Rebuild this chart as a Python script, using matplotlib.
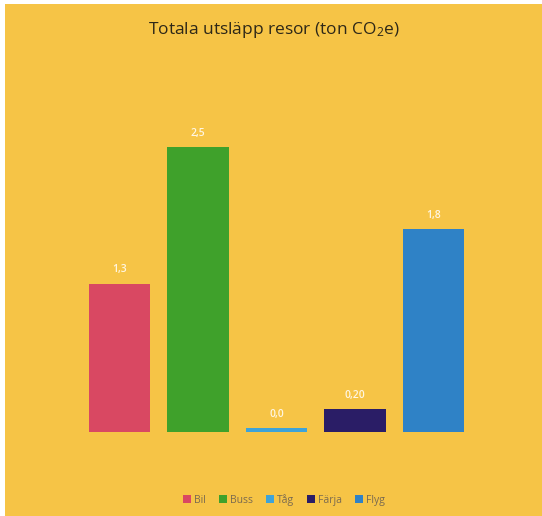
import matplotlib.pyplot as plt
from matplotlib.patches import Rectangle

# --- DATA ---
categories = ["Bil", "Buss", "Tåg", "Färja", "Flyg"]
values = [1.3, 2.5, 0.035, 0.20, 1.78]
labels = ["1,3", "2,5", "0,0", "0,20", "1,8"]
colors = ["#D94862", "#3FA12B", "#3EA3D8", "#2A1D66", "#2F82C6"]

BG = "#F6C446"

plt.rcParams["font.family"] = ["Open Sans", "DejaVu Sans"]
plt.rcParams["mathtext.fontset"] = "custom"
plt.rcParams["mathtext.rm"] = "Open Sans"
plt.rcParams["mathtext.it"] = "Open Sans"

fig = plt.figure(figsize=(5.42, 5.16), dpi=100, facecolor="white")

# yellow chart area with a thin white margin on the left/top
fig.patches.append(Rectangle((5 / 542, 0), 1, 1 - 4 / 516, transform=fig.transFigure,
                             facecolor=BG, edgecolor="none", zorder=-10))

ax = fig.add_axes([80 / 542, 84 / 516, 393 / 542, 342 / 516])
ax.set_facecolor("none")

x = range(len(categories))
bars = ax.bar(x, values, width=0.78, color=colors, label=categories)

for b, lab in zip(bars, labels):
    ax.annotate(lab, (b.get_x() + b.get_width() / 2, b.get_height()),
                xytext=(0, 6), textcoords="offset points",
                ha="center", va="bottom", fontsize=7.5, color="#FFF6E2",
                fontweight="semibold")

ax.set_xlim(-0.5, 4.5)
ax.set_ylim(0, 3)
ax.axis("off")

fig.text(0.506, 1 - 30 / 516, "Totala utsläpp resor (ton CO$_2$e)", ha="center",
         va="center", fontsize=12.5, color="#2E2818")

fig.legend(handles=bars, labels=categories, loc="center", bbox_to_anchor=(0.524, 1 - 500 / 516),
           ncol=5, frameon=False, fontsize=7.5, handlelength=0.75, handleheight=0.75,
           handletextpad=0.35, columnspacing=1.2, labelcolor="#7A6A50")

plt.savefig("out.png", dpi=100, facecolor="white")
